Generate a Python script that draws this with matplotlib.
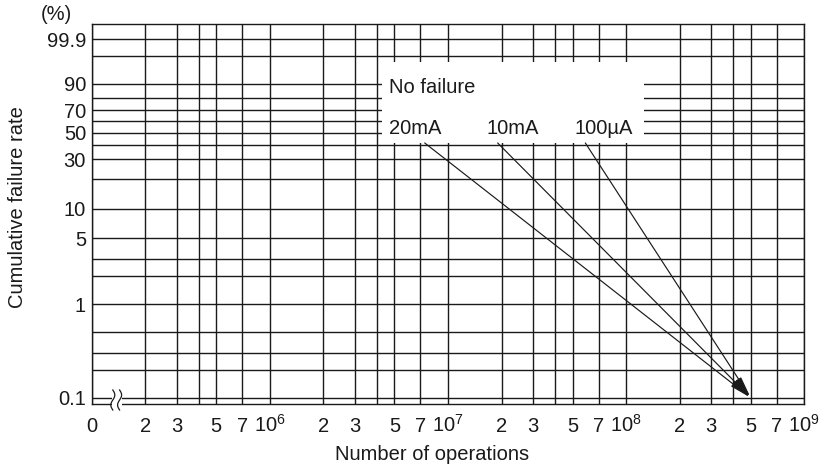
import numpy as np
import matplotlib
matplotlib.use('Agg')
import matplotlib.pyplot as plt
from matplotlib.ticker import FixedLocator, FixedFormatter, NullFormatter
from matplotlib.patches import Rectangle

plt.rcParams['font.family'] = ['Liberation Sans', 'DejaVu Sans']
plt.rcParams['mathtext.fontset'] = 'custom'
plt.rcParams['mathtext.rm'] = 'Liberation Sans'
plt.rcParams['mathtext.it'] = 'Liberation Sans:italic'
plt.rcParams['mathtext.bf'] = 'Liberation Sans:bold'

# ---------------- data ----------------
x_major_ticks = [1e5, 2e5, 3e5, 5e5, 7e5, 1e6, 2e6, 3e6, 5e6, 7e6, 1e7,
                 2e7, 3e7, 5e7, 7e7, 1e8, 2e8, 3e8, 5e8, 7e8, 1e9]
x_tick_labels = ['0', '2', '3', '5', '7', r'$\mathregular{10^{6}}$',
                 '2', '3', '5', '7', r'$\mathregular{10^{7}}$',
                 '2', '3', '5', '7', r'$\mathregular{10^{8}}$',
                 '2', '3', '5', '7', r'$\mathregular{10^{9}}$']
x_minor_grid = [4e5, 4e6, 4e7, 4e8]

y_major_ticks = [0.1, 1, 5, 10, 30, 50, 70, 90, 99.9]
y_tick_labels = ['0.1', '1', '5', '10', '30', '50', '70', '90', '99.9']
y_minor_grid = [0.2, 0.3, 0.5, 2, 3, 20, 40, 60, 80, 99]

series_names = ['20mA', '10mA', '100µA']
start_ops = [7.4e6, 1.9e7, 5.9e7]
start_rate = [41.5, 41.5, 41.5]
end_ops = [5e8, 5e8, 5e8]
end_rate = [0.1, 0.1, 0.1]

header_text = 'No failure'

# ---------------- Weibull probability scale ----------------
def fwd(p):
    q = np.clip(np.asarray(p, float) / 100.0, 1e-12, 1 - 1e-12)
    return np.log(-np.log1p(-q))

def inv(t):
    return 100.0 * (-np.expm1(-np.exp(np.asarray(t, float))))

# ---------------- layout (pixels) ----------------
W, H = 826, 472
AX_L, AX_R, AX_T, AX_B = 91.7, 804.3, 24.3, 404.0
AW, AH = AX_R - AX_L, AX_B - AX_T

def ax_x(px):
    return (np.asarray(px, float) - AX_L) / AW

def ax_y(py):
    return (AX_B - np.asarray(py, float)) / AH

INK = '#1a1a1a'
FS = 14.5

fig = plt.figure(figsize=(W / 100, H / 100), dpi=100)
ax = fig.add_axes([AX_L / W, 1 - AX_B / H, AW / W, AH / H])

ax.set_xscale('log')
ax.set_yscale('function', functions=(fwd, inv))
ax.set_xlim(1e5, 1e9)
ax.set_ylim(0.0857, 99.9955)

ax.xaxis.set_major_locator(FixedLocator(x_major_ticks))
ax.xaxis.set_major_formatter(FixedFormatter(x_tick_labels))
ax.xaxis.set_minor_locator(FixedLocator(x_minor_grid))
ax.xaxis.set_minor_formatter(NullFormatter())
ax.yaxis.set_major_locator(FixedLocator(y_major_ticks))
ax.yaxis.set_major_formatter(FixedFormatter(y_tick_labels))
ax.yaxis.set_minor_locator(FixedLocator(y_minor_grid))
ax.yaxis.set_minor_formatter(NullFormatter())

ax.tick_params(which='both', length=0, colors=INK, labelcolor=INK)
ax.tick_params(axis='y', pad=4.1, labelsize=FS)
ax.tick_params(axis='x', pad=20.2, labelsize=FS)
for lab in ax.get_xticklabels():
    lab.set_va('baseline')

ax.grid(True, which='both', color=INK, lw=1.0)
for s in ax.spines.values():
    s.set_linewidth(1.0)
    s.set_color(INK)

# axis labels
ax.set_xlabel('Number of operations', fontsize=FS, color=INK)
ax.xaxis.set_label_coords(ax_x(431.7), ax_y(455))
ax.xaxis.label.set_va('center')
ax.set_ylabel('Cumulative failure rate', fontsize=FS, color=INK)
ax.yaxis.set_label_coords(ax_x(17.5), ax_y(207.5))
ax.yaxis.label.set_va('center')
fig.text(56 / W, 1 - 15 / H, '(%)', ha='center', va='center', fontsize=FS, color=INK)

# white label box covering the grid
ax.add_patch(Rectangle((ax_x(382), ax_y(143)), ax_x(644) - ax_x(382), ax_y(62) - ax_y(143),
                       transform=ax.transAxes, facecolor='white', edgecolor='none', zorder=2))

ax.text(ax_x(389.3), ax_y(92.7), header_text, transform=ax.transAxes,
        ha='left', va='baseline', fontsize=FS, color=INK, zorder=4)
label_px = [389.3, 486.0, 574.3]
for name, lx in zip(series_names, label_px):
    ax.text(ax_x(lx), ax_y(134), name, transform=ax.transAxes,
            ha='left', va='baseline', fontsize=FS, color=INK, zorder=4)

# arrows
for x0, y0, x1, y1 in zip(start_ops, start_rate, end_ops, end_rate):
    ax.annotate('', xy=(x1, y1), xytext=(x0, y0), xycoords='data',
                arrowprops=dict(arrowstyle='-|>,head_length=0.85,head_width=0.12',
                                color=INK, lw=0.85, shrinkA=0, shrinkB=0,
                                mutation_scale=15), zorder=3)

# axis break symbol
ax.add_patch(Rectangle((ax_x(111.5), ax_y(410)), ax_x(121.5) - ax_x(111.5), ax_y(391) - ax_y(410),
                       transform=ax.transAxes, facecolor='white', edgecolor='none',
                       clip_on=False, zorder=5))
s = np.linspace(0, 1, 60)
for xc in (112.8, 119.6):
    xs = xc + 2.0 * np.sin(2 * np.pi * s)
    ys = 390 + 20 * s
    ax.plot(ax_x(xs), ax_y(ys), transform=ax.transAxes, color=INK, lw=0.9,
            clip_on=False, zorder=6)

fig.savefig('out.png', dpi=100)
